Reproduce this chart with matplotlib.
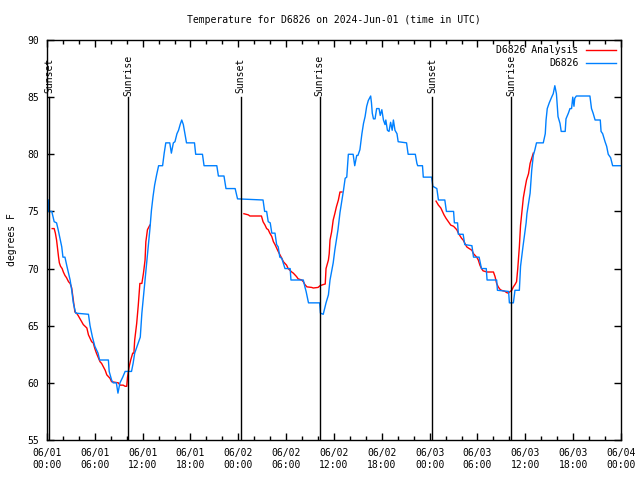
import numpy as np
import matplotlib
matplotlib.use('Agg')
import matplotlib.pyplot as plt
import matplotlib.dates as mdates
from datetime import datetime, timedelta

plt.rcParams['font.family'] = 'DejaVu Sans Mono'
plt.rcParams['font.size'] = 7

start = datetime(2024, 6, 1)

# station obs (hours since 06/01 00 UTC, deg F)
obs_hours = [0.15, 0.2, 0.6, 0.9, 1.2, 1.4, 1.85, 2.0, 2.25, 2.5, 2.9, 3.1, 3.3, 3.6, 5.2, 5.4, 5.7, 6.0, 6.4,
             6.6, 7.7, 7.8, 8.1, 8.3, 8.7, 8.9, 9.15, 9.5, 9.8, 10.6, 10.8, 11.0, 11.7, 11.9, 12.3, 12.5, 12.9,
             13.1, 13.3, 13.5, 13.75, 14.0, 14.5, 14.7, 14.9, 15.4, 15.6, 15.85, 16.05, 16.3, 16.5, 16.7, 16.9,
             17.1, 17.3, 17.5, 18.5, 18.65, 19.5, 19.7, 21.3, 21.5, 22.2, 22.45, 23.6, 23.9, 27.1, 27.3, 27.55,
             27.75, 28.0, 28.2, 28.6, 28.8, 29.0, 29.2, 29.45, 29.85, 30.5, 30.6, 32.15, 32.35, 32.5, 32.8, 34.2,
             34.3, 34.65, 35.0, 35.3, 35.5, 35.9, 36.1, 36.5, 36.75, 37.2, 37.4, 37.6, 37.8, 38.4, 38.6, 38.85,
             39.0, 39.25, 39.5, 39.7, 39.9, 40.1, 40.3, 40.6, 40.7, 40.8, 40.95, 41.15, 41.35, 41.65, 41.8, 42.0,
             42.2, 42.4, 42.5, 42.7, 42.9, 43.1, 43.3, 43.45, 43.65, 43.9, 44.05, 45.1, 45.3, 46.2, 46.4, 46.5,
             47.1, 47.2, 48.25, 48.4, 48.9, 49.1, 49.9, 50.1, 51.0, 51.1, 51.5, 51.6, 52.2, 52.4, 53.3, 53.5,
             54.2, 54.5, 55.1, 55.2, 56.4, 56.5, 57.9, 58.0, 58.5, 58.7, 59.25, 59.4, 59.7, 60.1, 60.2, 60.6,
             60.8, 61.0, 61.2, 61.4, 62.25, 62.5, 62.6, 62.75, 63.0, 63.3, 63.5, 63.7, 63.9, 64.1, 64.35, 64.5,
             65.0, 65.1, 65.4, 65.6, 65.8, 65.95, 66.1, 66.2, 66.4, 68.1, 68.3, 68.5, 68.75, 69.4, 69.5, 69.7,
             70.0, 70.2, 70.4, 70.7, 70.95, 71.9]
obs_temps = [76.0, 75, 75, 74.1, 74, 73.4, 71.9, 71, 71, 70.2, 69, 68.1, 67, 66.1, 66, 65, 64, 63.2, 62.6,
             62, 62, 61, 60.25, 60, 60, 59.1, 60, 60.5, 61, 61, 61.7, 62.6, 64, 66.1, 69, 70.5, 73.4,
             75.1, 76.3, 77.3, 78.2, 79, 79, 80.1, 81, 81, 80.1, 81, 81.1, 81.8, 82.1, 82.6, 83,
             82.6, 81.8, 81, 81, 80, 80, 79, 79, 78.1, 78.1, 77, 77, 76.1, 76, 75, 75,
             74.1, 74, 73.1, 73.1, 72.1, 71.9, 71, 70.9, 70, 70, 69, 69, 68.4, 68, 67, 67,
             66.1, 66, 67, 67.7, 69, 70.5, 71.6, 73.4, 74.9, 76.9, 77.9, 78, 80, 80, 79, 79.9,
             79.9, 80.4, 81.8, 82.7, 83.3, 84.2, 84.7, 85.1, 84.5, 83.6, 83.1, 83.1, 84, 84, 83.4, 83.9,
             83, 82.6, 83, 82.1, 82, 82.8, 82.1, 83, 82.1, 81.8, 81.1, 81, 80, 80, 79.2, 79,
             79, 78, 78, 77.2, 77, 76, 76, 75, 75, 74, 74, 73, 73, 72.1, 72, 71,
             71, 70, 70, 69, 69, 68.1, 68, 67, 67, 68.1, 68.1, 70.2, 71.9, 74, 74.8, 76.6,
             78.6, 79.9, 80.4, 81, 81, 81.8, 83, 84, 84.5, 85, 85.3, 86, 85.3, 83.3, 82.7, 82,
             82, 83.1, 83.6, 84, 84, 85, 84.2, 84.9, 85.1, 85.1, 84, 83.6, 83, 83, 82, 81.8,
             81.1, 80.7, 80, 79.7, 79, 79]

# analysis, three overnight pieces
ana_hours = [
    [0.65, 0.9, 1.05, 1.2, 1.3, 1.45, 1.55, 1.7, 1.9, 2.05, 2.25, 2.45, 2.7, 2.9, 3.1, 3.3, 3.5, 3.7, 3.9,
     4.35, 4.55, 5.0, 5.2, 5.6, 5.8, 6.0, 6.2, 6.65, 6.85, 7.3, 7.5, 7.9, 8.1, 8.95, 9.15, 9.55, 9.8, 10.0,
     10.1, 10.3, 10.5, 10.75, 10.9, 11.0, 11.25, 11.45, 11.65, 11.9, 12.1, 12.3, 12.4, 12.6, 12.9],
    [24.7, 25.25, 25.45, 26.9, 27.1, 27.35, 27.55, 27.75, 27.95, 28.2, 28.4, 28.6, 28.8, 29.0, 29.45, 29.65,
     30.05, 30.25, 30.7, 30.9, 31.3, 31.5, 31.95, 32.15, 32.35, 32.6, 33.2, 33.4, 34.0, 34.25, 34.65, 34.9,
     35.0, 35.3, 35.4, 35.5, 35.7, 35.9, 36.1, 36.3, 36.55, 36.75, 37.0],
    [48.8, 49.1, 49.4, 49.6, 49.8, 50.05, 50.35, 50.65, 51.0, 51.4, 51.6, 52.0, 52.2, 52.65, 52.85, 53.3,
     53.5, 53.9, 54.1, 54.3, 54.5, 54.7, 55.2, 56.0, 56.2, 56.4, 56.6, 56.8, 57.0, 57.45, 57.65, 57.85,
     58.1, 58.3, 58.5, 58.7, 58.9, 59.05, 59.25, 59.4, 59.75, 59.95, 60.15, 60.4, 60.6, 60.8, 61.0],
]
ana_temps = [
    [73.5, 73.5, 73.1, 72.5, 71.9, 71, 70.5, 70.2, 70, 69.7, 69.4, 69.2, 68.85, 68.7, 68.3, 67.25, 66.2, 66.1,
     65.9, 65.35, 65.1, 64.8, 64.2, 63.6, 63.5, 63.0, 62.6, 61.85, 61.7, 61.1, 60.7, 60.4, 60.1, 60, 59.8,
     59.8, 59.7, 59.7, 60.5, 61.4, 62, 62.6, 62.6, 63.75, 65.2, 66.8, 68.7, 68.7, 69.6, 70.75, 72.35, 73.4,
     73.8],
    [74.8, 74.7, 74.6, 74.6, 74.1, 73.8, 73.5, 73.4, 73.1, 72.8, 72.35, 72.1, 71.8, 71.5, 70.9, 70.6,
     70.3, 70, 69.7, 69.6, 69.3, 69.1, 69, 68.85, 68.6, 68.4, 68.35, 68.3, 68.35, 68.5, 68.6, 68.65,
     70, 70.75, 71.3, 72.5, 73.2, 74.25, 74.8, 75.4, 76, 76.7, 76.7],
    [75.9, 75.55, 75.3, 75, 74.7, 74.4, 74.1, 73.8, 73.7, 73.4, 73.1, 72.65, 72.5, 71.9, 71.8, 71.6,
     71.3, 71, 70.75, 70.3, 70, 69.8, 69.7, 69.7, 69.3, 68.7, 68.4, 68.2, 68.1, 68, 67.9, 67.85,
     68.0, 68.1, 68.4, 68.6, 68.85, 70, 71.9, 73.8, 76.2, 77, 77.75, 78.3, 79.2, 79.65, 80.1],
]

sun_hours = [0.27, 10.2, 24.29, 34.22, 48.31, 58.2]
sun_labels = ['Sunset', 'Sunrise', 'Sunset', 'Sunrise', 'Sunset', 'Sunrise']


def to_dt(hours):
    return [start + timedelta(hours=h) for h in hours]


fig = plt.figure(figsize=(6.4, 4.8), dpi=100)
ax = fig.add_axes([47 / 640, 40 / 480, 574 / 640, 400 / 480])

for i, (hh, tt) in enumerate(zip(ana_hours, ana_temps)):
    ax.plot(to_dt(hh), tt, color='#ff0000', lw=1.0, label='D6826 Analysis' if i == 0 else None)
ax.plot(to_dt(obs_hours), obs_temps, color='#0080ff', lw=1.0, label='D6826')

for h, lab in zip(sun_hours, sun_labels):
    t = start + timedelta(hours=h)
    ax.plot([t, t], [55, 85], color='black', lw=1.0)
    ax.text(t, 86.9, lab, rotation=90, ha='center', va='center', fontsize=7)

ax.set_xlim(start, start + timedelta(hours=72))
ax.set_ylim(55, 90)
ax.set_yticks(np.arange(55, 91, 5))
ax.xaxis.set_major_locator(mdates.HourLocator(byhour=[0, 6, 12, 18]))
ax.xaxis.set_minor_locator(mdates.HourLocator(interval=2))
ax.xaxis.set_major_formatter(mdates.DateFormatter('%m/%d\n%H:%M'))
ax.tick_params(which='both', direction='in', top=True, right=True, width=1.0)
ax.tick_params(which='major', length=5, pad=6, labelsize=7)
ax.tick_params(which='minor', length=3)
for s in ax.spines.values():
    s.set_linewidth(1.0)

ax.set_ylabel('degrees F', fontsize=7, labelpad=7)
ax.set_title('Temperature for D6826 on 2024-Jun-01 (time in UTC)', fontsize=7, pad=12)

ax.legend(loc='upper right', frameon=False, markerfirst=False, handlelength=3.0,
          fontsize=7, borderaxespad=0.15, labelspacing=0.3, handletextpad=0.8)

fig.savefig('out.png', dpi=100)
